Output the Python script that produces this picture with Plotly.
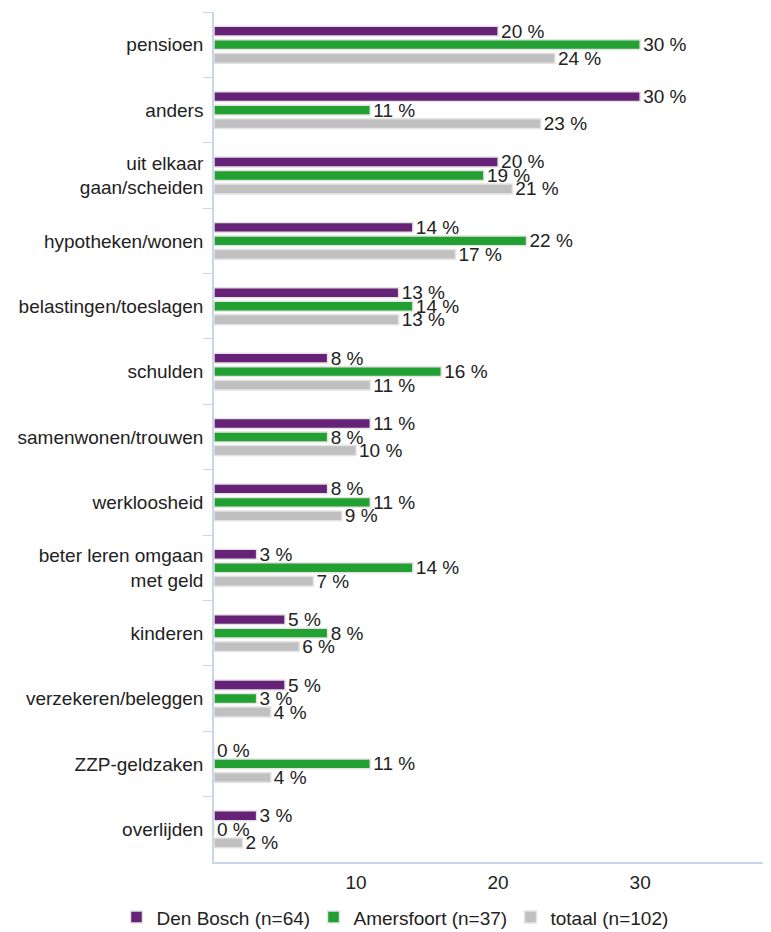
import plotly.graph_objects as go

categories = [
    "pensioen", "anders", "uit elkaar<br>gaan/scheiden", "hypotheken/wonen",
    "belastingen/toeslagen", "schulden", "samenwonen/trouwen", "werkloosheid",
    "beter leren omgaan<br>met geld", "kinderen", "verzekeren/beleggen",
    "ZZP-geldzaken", "overlijden",
]
den_bosch = [20, 30, 20, 14, 13, 8, 11, 8, 3, 5, 5, 0, 3]
amersfoort = [30, 11, 19, 22, 14, 16, 8, 11, 14, 8, 3, 11, 0]
totaal = [24, 23, 21, 17, 13, 11, 10, 9, 7, 6, 4, 4, 2]

series = [
    ("Den Bosch (n=64)", den_bosch, "#662277"),
    ("Amersfoort (n=37)", amersfoort, "#22a032"),
    ("totaal (n=102)", totaal, "#c0c0c0"),
]

fig = go.Figure()
for name, vals, col in series:
    fig.add_trace(go.Bar(
        y=categories, x=vals, name=name, orientation="h",
        marker=dict(color=col, line=dict(color="#e4e4e4", width=1.5)),
        text=[f"{v} %" for v in vals], textposition="outside",
        constraintext="none",
        textfont=dict(size=19, color="#222222"), cliponaxis=False,
    ))

# page body adds an 8px offset, so the figure is 8px smaller than the window
fig.update_layout(
    width=763, height=924,
    margin=dict(l=206, r=3, t=4, b=70, autoexpand=False),
    plot_bgcolor="white", paper_bgcolor="white",
    font=dict(family="Liberation Sans, Arial", size=19, color="#222222"),
    barmode="group", bargap=0.38, bargroupgap=0.27,
    legend=dict(orientation="h", x=-0.176, xanchor="left", y=-0.065, yanchor="middle",
                font=dict(size=19), traceorder="normal",
                entrywidth=152, entrywidthmode="pixels"),
)
fig.update_yaxes(autorange="reversed", showline=True, linecolor="#c9d8e8", linewidth=1.5,
                 ticks="outside", tickson="boundaries", ticklen=9, tickcolor="#c9d8e8",
                 showgrid=False, ticklabelstandoff=5, automargin=False)
fig.update_xaxes(range=[0, 39], tickvals=[10, 20, 30], showgrid=False, zeroline=False,
                 showline=True, linecolor="#c9d8e8", linewidth=1.5, ticks="",
                 ticklabelstandoff=2, automargin=False)

fig.write_html("out.html")
